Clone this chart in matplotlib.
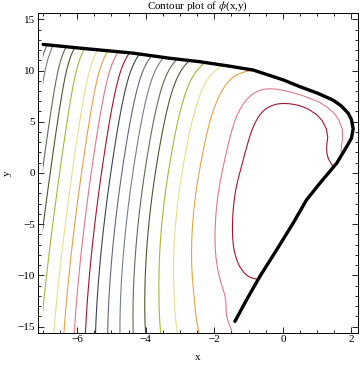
import numpy as np
import matplotlib.pyplot as plt
from matplotlib.path import Path
from matplotlib.patches import PathPatch

plt.rcParams['font.family'] = ['Liberation Serif', 'DejaVu Serif']
plt.rcParams['mathtext.fontset'] = 'stix'

# black boundary curve of the region
bnd_x = [-6.99, -5.8, -4.37, -3.3, -2.42, -1.6, -0.87, 0.0, 0.5, 1.0, 1.46, 1.7,
         1.9, 2.0, 2.05, 2.0, 1.86, 1.57, 1.08, 0.69, 0.30, -0.18, -0.67, -1.06, -1.40]
bnd_y = [12.55, 12.15, 11.7, 11.2, 10.86, 10.45, 10.05, 9.1, 8.42, 7.8, 7.12, 6.55,
         5.85, 5.2, 4.3, 3.4, 2.57, 0.95, -1.0, -2.63, -4.9, -7.5, -10.1, -12.4, -14.5]

# one point on each contour, lowest level first
lev_x = [-7.0, -7.0, -7.0, -7.0, -7.0,
         -6.65, -6.36, -6.06, -5.74, -5.45, -5.10, -4.75, -4.37, -4.02,
         -3.59, -3.12, -2.51, -1.69, -1.46]
lev_y = [11.4, 8.8, 0.5, -5.4, -13.4,
         -14.5, -14.5, -14.5, -14.5, -14.5, -14.5, -14.5, -14.5, -14.5,
         -14.5, -14.5, -14.5, -12.0, -4.2]

palette = ['#a9b63a', '#e9dd8e', '#e3a347', '#e0788a', '#a3142f',
           '#3b4456', '#6b6283', '#747d8c', '#5d6f55', '#4b5a2c']
first_color = 6


def poly_dist(x, y, px, py):
    d = np.full(x.shape, np.inf)
    for i in range(len(px) - 1):
        ax_, ay_ = px[i], py[i]
        dx, dy = px[i + 1] - ax_, py[i + 1] - ay_
        t = np.clip(((x - ax_) * dx + (y - ay_) * dy) / (dx * dx + dy * dy), 0, 1)
        d = np.minimum(d, np.hypot(x - ax_ - t * dx, y - ay_ - t * dy))
    return d


def sig(v):
    return 1.0 / (1.0 + np.exp(-v))


def phi(x, y):
    xc = 1.4 + 0.0357 * y - 0.0018 * y ** 2
    q = (x - xc) ** 2 + ((y + 1.36) / 5.44) ** 2
    d_all = poly_dist(x, y, bnd_x, bnd_y)
    d_low = poly_dist(x, y, bnd_x[20:] + [-1.6], bnd_y[20:] + [-17.0])
    amp = (2.5 + 10.0 * sig(x / 0.7)) * sig(y / 1.0)
    top_drop = amp * np.exp(-d_all / 1.42)
    low_drop = 2.6 * np.exp(-d_low / 0.7) * sig(-(y + 8.0)) * sig((y + 12.8) / 0.6)
    return -q - top_drop - low_drop


gx, gy = np.meshgrid(np.linspace(-7.05, 2.2, 500), np.linspace(-16.5, 13.0, 700))
field = phi(gx, gy)
levels = phi(np.array(lev_x), np.array(lev_y))
order = np.argsort(levels)
levels = levels[order]
colors = [palette[(first_color + i) % 10] for i in order]

fig = plt.figure(figsize=(3.6, 3.65), dpi=100)
ax = fig.add_axes([0.1056, 0.0885, 0.8888, 0.8765])

cs = ax.contour(gx, gy, field, levels=levels, colors=colors, linewidths=0.8)

clip_x = bnd_x + [-1.55, -7.0, -7.0]
clip_y = bnd_y + [-16.5, -16.5, bnd_y[0]]
clip = PathPatch(Path(np.column_stack([clip_x, clip_y])), transform=ax.transData,
                 facecolor='none', edgecolor='none')
ax.add_patch(clip)
cs.set_clip_path(clip)

ax.plot(bnd_x, bnd_y, color='black', lw=2.4, solid_capstyle='round', zorder=5)

ax.set_xlim(-7.14, 2.19)
ax.set_ylim(-15.6, 15.64)
ax.set_xticks([-6, -4, -2, 0, 2])
ax.set_yticks([-15, -10, -5, 0, 5, 10, 15])
ax.set_xticks(np.arange(-7, 2.5, 0.5), minor=True)
ax.set_yticks(np.arange(-15, 16, 1), minor=True)
ax.tick_params(which='both', direction='in', top=True, right=True, labelsize=8,
               width=0.6, pad=2)
ax.tick_params(which='major', length=4)
ax.tick_params(which='minor', length=2)
for s in ax.spines.values():
    s.set_linewidth(0.7)

ax.set_xlabel('x', fontsize=8, labelpad=6)
ax.set_ylabel('y', fontsize=8, labelpad=4)
ax.set_title(r'Contour plot of $\phi$(x,y)', fontsize=8, pad=1.5)

fig.savefig('out.png', dpi=100)
